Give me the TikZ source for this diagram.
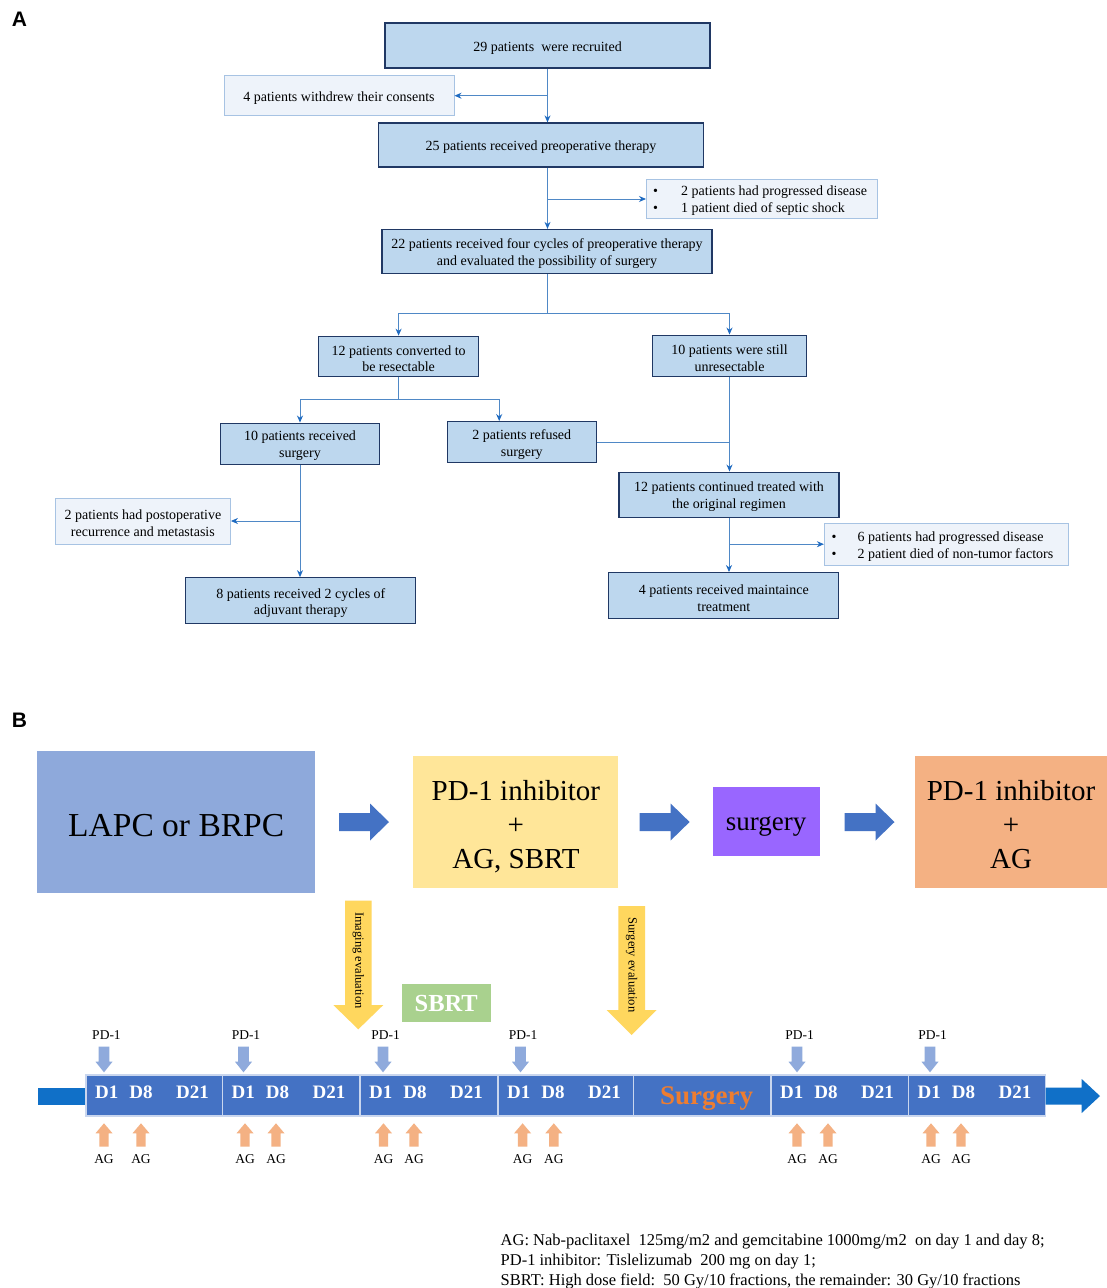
\documentclass[tikz,border=0pt]{standalone}
\usepackage{fontspec}
\setmainfont{Liberation Serif}
\newfontfamily\labelfont{Liberation Sans}
\usetikzlibrary{arrows.meta}
\definecolor{boxblue}{HTML}{BDD7EE}
\definecolor{navy}{HTML}{203864}
\definecolor{sidefill}{HTML}{EEF3FA}
\definecolor{sideedge}{HTML}{A7C3E3}
\definecolor{linkblue}{HTML}{4F88C6}
\definecolor{tipblue}{HTML}{1F6BC1}
\definecolor{lapcblue}{HTML}{8EA9DB}
\definecolor{yel}{HTML}{FFE699}
\definecolor{purp}{HTML}{9966FF}
\definecolor{orng}{HTML}{F4B183}
\definecolor{bblue}{HTML}{4472C4}
\definecolor{endblue}{HTML}{1070C8}
\definecolor{gold}{HTML}{FFD75E}
\definecolor{sbrtgreen}{HTML}{A9D18E}
\definecolor{pdblue}{HTML}{8FAADC}
\definecolor{surgorange}{HTML}{ED7D31}
\definecolor{segedge}{HTML}{C9D6EE}
\tikzset{
  mbox/.style={draw=navy, fill=boxblue, line width=1.3pt, inner sep=0pt, align=center,
    text height=14pt, font=\fontsize{14}{16.7}\selectfont},
  sbox/.style={draw=sideedge, fill=sidefill, line width=1pt, inner sep=0pt, align=center,
    text height=14pt, font=\fontsize{14}{16.7}\selectfont},
  twoline/.style={text height=31pt},
  btext/.style={anchor=west, inner sep=0pt, font=\fontsize{14}{16.7}\selectfont},
  conn/.style={draw=linkblue, line width=1pt},
  arr/.style={conn, -{Stealth[length=7pt,width=6pt,color=tipblue]}},
  bigbox/.style={inner sep=0pt, align=center},
  panel/.style={font=\labelfont\bfseries\fontsize{21}{24}\selectfont},
  blockarrow/.pic={\fill[bblue] (0,-9) -- (31,-9) -- (31,-18.5) -- (50,0) -- (31,18.5) -- (31,9) -- (0,9) -- cycle;},
  pdarrow/.pic={\fill[pdblue] (-5.3,-25.6) -- (5.3,-25.6) -- (5.3,-10.6) -- (8.5,-10.6) -- (0,0) -- (-8.5,-10.6) -- (-5.3,-10.6) -- cycle;},
  agarrow/.pic={\fill[orng] (0,0) -- (8.5,10) -- (4.7,10) -- (4.7,23.4) -- (-4.7,23.4) -- (-4.7,10) -- (-8.5,10) -- cycle;},
  dlab/.style={text=white, font=\bfseries\fontsize{19}{22}\selectfont, inner sep=0pt},
  smalllab/.style={font=\fontsize{13.5}{16}\selectfont, inner sep=0pt},
  segbox/.style={fill=bblue, draw=segedge, line width=1.5pt},
}
\begin{document}
\begin{tikzpicture}[x=1pt,y=-1pt]
\useasboundingbox[fill=white] (0,0) rectangle (1107,1288);

% ---------------- Panel A ----------------
\node[panel] (labA) at (19.5,19) {A};

\node[mbox, minimum width=325pt, minimum height=45pt] (b1) at (547.5,45.5) {29 patients\ \ were recruited};
\node[sbox, minimum width=230pt, minimum height=40pt] (wd) at (339,95.7) {4 patients withdrew their consents};
\node[mbox, minimum width=325pt, minimum height=44pt] (b2) at (541,145) {25 patients received preoperative therapy};
\node[sbox, minimum width=231pt, minimum height=39pt] (s1) at (762,199) {};
\node[btext] (s1a) at (653,192.5) {\makebox[28pt][l]{\textbullet}2 patients had progressed disease};
\node[btext] (s1b) at (653,209) {\makebox[28pt][l]{\textbullet}1 patient died of septic shock};
\node[mbox, twoline, minimum width=330pt, minimum height=44pt] (b3) at (547,251.5) {22 patients received four cycles of preoperative therapy\\and evaluated the possibility of surgery};
\node[mbox, twoline, minimum width=160pt, minimum height=40pt] (b4) at (398.6,356.3) {12 patients converted to\\be resectable};
\node[mbox, twoline, minimum width=154pt, minimum height=41pt] (b5) at (729.5,355.7) {10 patients were still\\unresectable};
\node[mbox, twoline, minimum width=159pt, minimum height=41pt] (b6) at (300,443.7) {10 patients received\\surgery};
\node[mbox, twoline, minimum width=149pt, minimum height=41pt] (b7) at (521.8,442.2) {2 patients refused\\surgery};
\node[mbox, twoline, minimum width=220pt, minimum height=45pt] (b8) at (729,494.7) {12 patients continued treated with\\the original regimen};
\node[sbox, twoline, minimum width=175pt, minimum height=46pt] (s2) at (142.9,521) {2 patients had postoperative\\recurrence and metastasis};
\node[mbox, twoline, minimum width=230pt, minimum height=46pt] (b9) at (300.8,600.8) {8 patients received 2 cycles of\\adjuvant therapy};
\node[sbox, minimum width=244pt, minimum height=42pt] (s3) at (946.4,544.2) {};
\node[btext] (s3a) at (831.5,538) {\makebox[26pt][l]{\textbullet}6 patients had progressed disease};
\node[btext] (s3b) at (831.5,554.7) {\makebox[26pt][l]{\textbullet}2 patient died of non-tumor factors};
\node[mbox, twoline, minimum width=230pt, minimum height=46pt] (b10) at (723.8,595.7) {4 patients received maintaince\\treatment};

% connectors
\draw[arr] (b1.south) -- (b1.south |- b2.north);
\draw[arr] (b1.south |- wd.east) -- (wd.east);
\draw[arr] (b1.south |- b2.south) -- (b1.south |- b3.north);
\draw[arr] (b1.south |- s1.west) -- (s1.west);
\draw[conn] (b3.south) -- ++(0,39) coordinate (j1);
\draw[arr] (j1) -| (b4.north);
\draw[arr] (j1) -| (b5.north);
\draw[conn] (b4.south) -- ++(0,23) coordinate (j2);
\draw[arr] (j2) -| (b6.north);
\draw[arr] (j2) -| ([xshift=-22.6pt]b7.north);
\draw[conn] (b7.east) -- (b7.east -| b5.south);
\draw[arr] (b5.south) -- (b5.south |- b8.north);
\draw[arr] (b6.south) -- (b6.south |- b9.north);
\draw[arr] (b6.south |- s2.east) -- (s2.east);
\draw[arr] (b8.south) -- (b8.south |- b10.north);
\draw[arr] (b8.south |- s3.west) -- (s3.west);

% ---------------- Panel B ----------------
\node[panel] (labB) at (19.5,720.5) {B};

\node[bigbox, fill=lapcblue, minimum width=277.5pt, minimum height=142.6pt, text height=28.5pt, font=\fontsize{33.5}{40}\selectfont] (lapc) at (176.2,822) {LAPC or BRPC};
\node[bigbox, fill=yel, minimum width=205pt, minimum height=131.7pt, text height=97pt, font=\fontsize{29}{34}\selectfont] (trt1) at (515.9,821.8) {PD-1 inhibitor\\+\\AG, SBRT};
\node[bigbox, fill=purp, minimum width=107pt, minimum height=69pt, text height=23pt, font=\fontsize{27}{32}\selectfont] (surg) at (766,821.7) {surgery};
\node[bigbox, fill=orng, minimum width=192pt, minimum height=131.7pt, text height=94pt, font=\fontsize{29}{34}\selectfont] (trt2) at (1011,821.8) {PD-1 inhibitor\\+\\AG};

\pic at (339,822) {blockarrow};
\pic at (639.6,822) {blockarrow};
\pic at (844.5,822) {blockarrow};

% evaluation arrows
\fill[gold] (345,900.7) -- (371.7,900.7) -- (371.7,1005) -- (383.3,1005) -- (358.3,1029.3) -- (333.3,1005) -- (345,1005) -- cycle;
\node[rotate=-90, font=\fontsize{12.5}{14}\selectfont, inner sep=0pt] (imgev) at (358.3,960.5) {Imaging evaluation};
\fill[gold] (618.3,906) -- (645,906) -- (645,1010) -- (656.7,1010) -- (631.7,1035) -- (606.7,1010) -- (618.3,1010) -- cycle;
\node[rotate=-90, font=\fontsize{12.5}{14}\selectfont, inner sep=0pt] (surgev) at (631.7,965) {Surgery evaluation};

\node[fill=sbrtgreen, minimum width=89pt, minimum height=38pt, inner sep=0pt, text=white, font=\bfseries\fontsize{24.5}{28}\selectfont] (sbrt) at (446.2,1003.3) {SBRT};

% timeline
\fill[endblue] (37.5,1087.5) rectangle (86,1104.5);
\foreach \a/\b [count=\i] in {86/222.5, 222.5/360, 360/498, 498/633.5, 633.5/771, 771/908.5, 908.5/1045.5}
  \draw[segbox] (\a,1075) rectangle (\b,1116);
\fill[endblue] (1045.5,1087.5) -- (1081.7,1087.5) -- (1081.7,1079) -- (1100,1096) -- (1081.7,1113) -- (1081.7,1104.5) -- (1045.5,1104.5) -- cycle;
\node[text=surgorange, font=\bfseries\fontsize{27}{32}\selectfont, inner sep=0pt] (surgtl) at (706.7,1098.5) {Surgery};

\foreach \s/\p/\ga/\gb [count=\i] in {86/104/104/141, 222.5/243.5/245/276, 360/383/383.5/414, 498/520.5/522.6/553.8, 771/797/797/828, 908.5/930/931/961}{
  \node[dlab] (dA\i) at (\s+20.7,1092) {D1};
  \node[dlab] (dB\i) at (\s+55,1092) {D8};
  \node[dlab] (dC\i) at (\s+106.5,1092) {D21};
  \pic at (\p,1072.3) {pdarrow};
  \node[smalllab] (pd\i) at (\p+2.5,1035.5) {PD-1};
  \pic at (\ga,1123.3) {agarrow};
  \pic at (\gb,1123.3) {agarrow};
  \node[smalllab] (agA\i) at (\ga,1159.5) {AG};
  \node[smalllab] (agB\i) at (\gb,1159.5) {AG};
}

% notes
\node[anchor=west, align=left, inner sep=0pt, font=\fontsize{16.5}{20}\selectfont] (notes) at (500.5,1261.5) {AG: Nab-paclitaxel\ \ 125mg/m2 and gemcitabine 1000mg/m2\ \ on day 1 and day 8;\\PD-1 inhibitor: Tislelizumab\ \ 200 mg on day 1;\\SBRT: High dose field:\ \ 50 Gy/10 fractions, the remainder: 30 Gy/10 fractions};
\end{tikzpicture}
\end{document}
